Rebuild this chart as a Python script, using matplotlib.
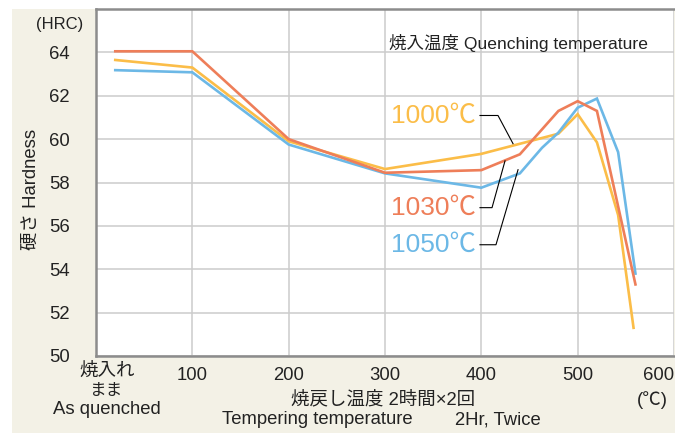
import matplotlib
matplotlib.use("Agg")
from matplotlib import pyplot as plt
from matplotlib.patches import Rectangle

plt.rcParams['font.family'] = ['Liberation Sans', 'Noto Sans CJK JP', 'DejaVu Sans']

# tempering temperature (C) and hardness (HRC), as-quenched drawn at x=20
x_1000 = [20, 100, 200, 300, 400, 480, 500, 520, 542, 558]
hrc_1000 = [63.65, 63.3, 59.9, 58.62, 59.32, 60.25, 61.15, 59.85, 56.5, 51.3]

x_1030 = [20, 100, 200, 300, 400, 440, 480, 500, 520, 560]
hrc_1030 = [64.05, 64.05, 60.0, 58.45, 58.57, 59.3, 61.3, 61.75, 61.3, 53.3]

x_1050 = [20, 100, 200, 300, 400, 440, 463, 480, 500, 520, 542, 560]
hrc_1050 = [63.18, 63.08, 59.75, 58.42, 57.76, 58.42, 59.6, 60.3, 61.45, 61.87, 59.4, 53.8]

series = [
    ("1000℃", x_1000, hrc_1000, '#fbbd48'),
    ("1050℃", x_1050, hrc_1050, '#6cb8e6'),
    ("1030℃", x_1030, hrc_1030, '#ee7e59'),
]

x_ticks = [100, 200, 300, 400, 500, 600]
y_ticks = [50, 52, 54, 56, 58, 60, 62, 64]

W, H = 675, 433
fig = plt.figure(figsize=(W / 100, H / 100), dpi=100)
fig.patch.set_facecolor('white')
bg = Rectangle((12 / W, 0), 1, 1 - 9 / H, transform=fig.transFigure,
               facecolor='#f3f1e6', edgecolor='none', zorder=-5)
fig.patches.append(bg)


def px(x, y):
    return x / W, 1 - y / H


ax = fig.add_axes([96 / W, 77 / H, 578 / W, 347 / H])
ax.set_facecolor('white')
ax.set_xlim(0, 600)
ax.set_ylim(50, 66)

for label, xs, ys, col in series:
    ax.plot(xs, ys, color=col, lw=1.9, solid_joinstyle='miter', zorder=3)

ax.set_xticks(x_ticks)
ax.set_yticks(y_ticks + [66])
ax.set_yticklabels([str(v) for v in y_ticks] + [''])
ax.grid(True, color='#cccccc', lw=1.1, zorder=1)
ax.set_axisbelow(True)
ax.tick_params(length=0, labelsize=13.3, colors='#222222')
ax.tick_params(axis='y', pad=19)
ax.tick_params(axis='x', pad=8)
ax.get_xticklabels()[-1].set_horizontalalignment('right')

for side in ['left', 'top', 'bottom']:
    ax.spines[side].set_color('#8c8c8c')
    ax.spines[side].set_linewidth(1.8)
ax.spines['right'].set_visible(False)

# quenching temperature labels with leader lines
labels = [
    ("1000℃", '#fbbd48', 61.09, [398.6, 417.3, 432.9], [61.09, 61.09, 59.79]),
    ("1030℃", '#ee7e59', 56.84, [398.6, 411.1, 424.6], [56.84, 56.84, 59.0]),
    ("1050℃", '#6cb8e6', 55.13, [398.6, 415.2, 438.1], [55.13, 55.13, 58.59]),
]
for txt, col, ty, lx, ly in labels:
    ax.text(394.5, ty, txt, color=col, fontsize=19, ha='right', va='center', zorder=4)
    ax.plot(lx, ly, color='black', lw=0.8, zorder=4)

fig.text(*px(389, 43), "焼入温度 Quenching temperature", fontsize=12.6, ha='left', va='center', color='#222222')
fig.text(*px(83, 25), "(HRC)", fontsize=12, ha='right', va='center', color='#222222')
fig.text(*px(31, 189), "硬さ Hardness", fontsize=13.3, rotation=90, ha='center', va='center', color='#222222')

fig.text(*px(107, 371), "焼入れ", fontsize=13.3, ha='center', va='center', color='#222222')
fig.text(*px(107, 391), "まま", fontsize=12, ha='center', va='center', color='#222222')
fig.text(*px(107, 409), "As quenched", fontsize=13.3, ha='center', va='center', color='#222222')

fig.text(*px(291, 400), "焼戻し温度 2時間×2回", fontsize=13.3, ha='left', va='center', color='#222222')
fig.text(*px(222, 420), "Tempering temperature", fontsize=13.3, ha='left', va='center', color='#222222')
fig.text(*px(455, 420), "2Hr, Twice", fontsize=13.3, ha='left', va='center', color='#222222')
fig.text(*px(652, 400), "(℃)", fontsize=13.3, ha='center', va='center', color='#222222')

fig.savefig('out.png', dpi=100, facecolor=fig.get_facecolor())
